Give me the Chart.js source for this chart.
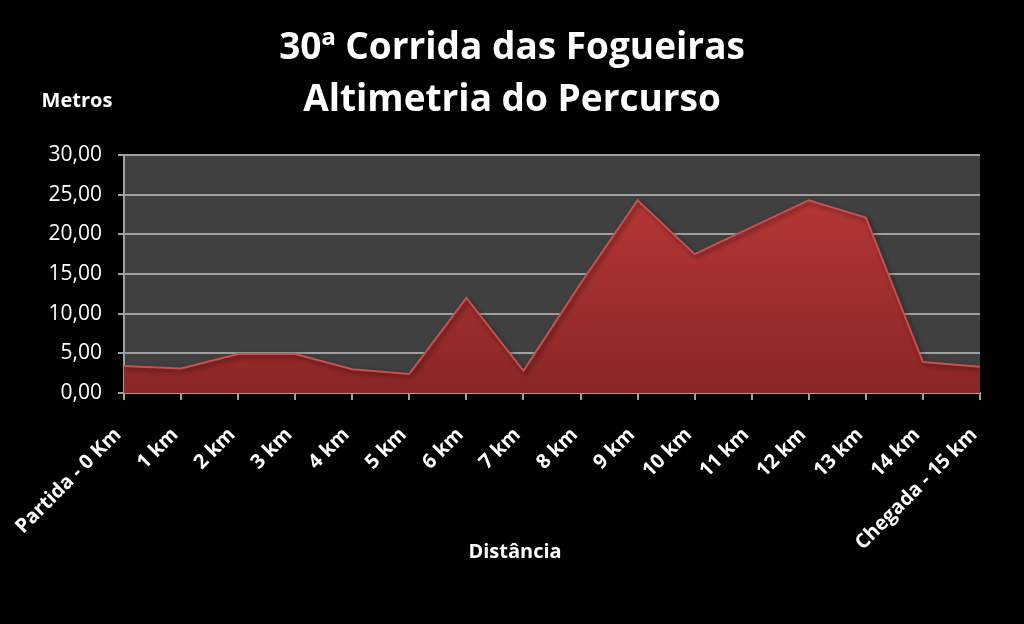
<!DOCTYPE html>
<html>
<head>
<meta charset="utf-8">
<script src="https://cdn.jsdelivr.net/npm/chart.js@4"></script>
<style>
  html, body { margin: 0; padding: 0; background: #000; }
  #wrap { width: 1024px; height: 624px; }
</style>
</head>
<body>
<div id="wrap"><canvas id="c" width="1024" height="624"></canvas></div>
<script>
const categories = ["Partida - 0 Km", "1 km", "2 km", "3 km", "4 km", "5 km", "6 km", "7 km", "8 km", "9 km", "10 km", "11 km", "12 km", "13 km", "14 km", "Chegada - 15 km"];
const altitude = [3.4, 3.1, 4.9, 4.9, 3.0, 2.4, 12.0, 2.8, 13.8, 24.3, 17.5, 20.9, 24.3, 22.1, 3.9, 3.3];
const titleLines = ["30ª Corrida das Fogueiras", "Altimetria do Percurso"];
const yAxisLabel = "Metros";
const xAxisLabel = "Distância";

const FONT = "'Open Sans', 'Noto Sans', sans-serif";

const plotBg = {
  id: 'plotBg',
  beforeDraw(chart) {
    const { ctx, chartArea: a } = chart;
    ctx.save();
    ctx.fillStyle = '#404040';
    ctx.fillRect(a.left, a.top, a.right - a.left, a.bottom - a.top);
    ctx.restore();
  },
  afterDraw(chart) {
    const { ctx } = chart;
    ctx.save();
    ctx.fillStyle = '#fff';
    ctx.font = "bold 20px " + FONT;
    ctx.textAlign = 'center';
    ctx.textBaseline = 'middle';
    ctx.fillText(yAxisLabel, 77, 101);
    ctx.fillText(xAxisLabel, 515, 552);
    ctx.restore();
  }
};

const shadowPlugin = {
  id: 'shadowPlugin',
  beforeDatasetDraw(chart) {
    const ctx = chart.ctx;
    ctx.save();
    ctx.shadowColor = 'rgba(0,0,0,0.6)';
    ctx.shadowBlur = 5;
    ctx.shadowOffsetX = 2;
    ctx.shadowOffsetY = 2;
  },
  afterDatasetDraw(chart) {
    chart.ctx.restore();
  }
};

new Chart(document.getElementById('c'), {
  type: 'line',
  data: {
    labels: categories,
    datasets: [{
      data: altitude,
      yAxisID: 'y',
      fill: 'origin',
      tension: 0,
      pointRadius: 0,
      borderWidth: 2,
      borderColor: '#c95050',
      backgroundColor: (context) => {
        const chart = context.chart;
        const a = chart.chartArea;
        if (!a) return '#a33030';
        const g = chart.ctx.createLinearGradient(0, a.top, 0, a.bottom);
        g.addColorStop(0, '#c03a3a');
        g.addColorStop(1, '#8a2626');
        return g;
      }
    }]
  },
  options: {
    responsive: false,
    animation: false,
    layout: { padding: { left: 0, right: 0, top: 0, bottom: 0 } },
    plugins: {
      legend: { display: false },
      tooltip: { enabled: false },
      title: {
        display: true,
        text: titleLines,
        color: '#fff',
        font: { family: FONT, size: 37, weight: 'bold', lineHeight: 1.405 },
        padding: { top: 22, bottom: 29 }
      }
    },
    scales: {
      x: {
        offset: false,
        afterFit(scale) { scale.height = 231; },
        grid: { drawOnChartArea: false, drawTicks: true, tickLength: 7, color: '#a0a0a0', lineWidth: 2 },
        border: { display: true, color: '#a0a0a0', width: 2 },
        ticks: {
          color: '#fff',
          autoSkip: false,
          maxRotation: 45,
          minRotation: 45,
          padding: 23,
          labelOffset: -6,
          font: { family: FONT, size: 20, weight: 'bold' }
        }
      },
      y: {
        min: 0,
        max: 30,
        afterFit(scale) { scale.width = 124; },
        grid: { color: '#a0a0a0', lineWidth: 2, tickLength: 6 },
        border: { display: true, color: '#a0a0a0', width: 2 },
        ticks: {
          stepSize: 5,
          color: '#fff',
          padding: 16,
          font: { family: FONT, size: 21 },
          callback: (v) => Number(v).toFixed(2).replace('.', ',')
        }
      },
      yRight: {
        position: 'right',
        display: true,
        afterFit(scale) { scale.width = 44; },
        grid: { display: false, drawOnChartArea: false },
        border: { display: false },
        ticks: { display: false }
      }
    }
  },
  plugins: [plotBg, shadowPlugin]
});
</script>
</body>
</html>
